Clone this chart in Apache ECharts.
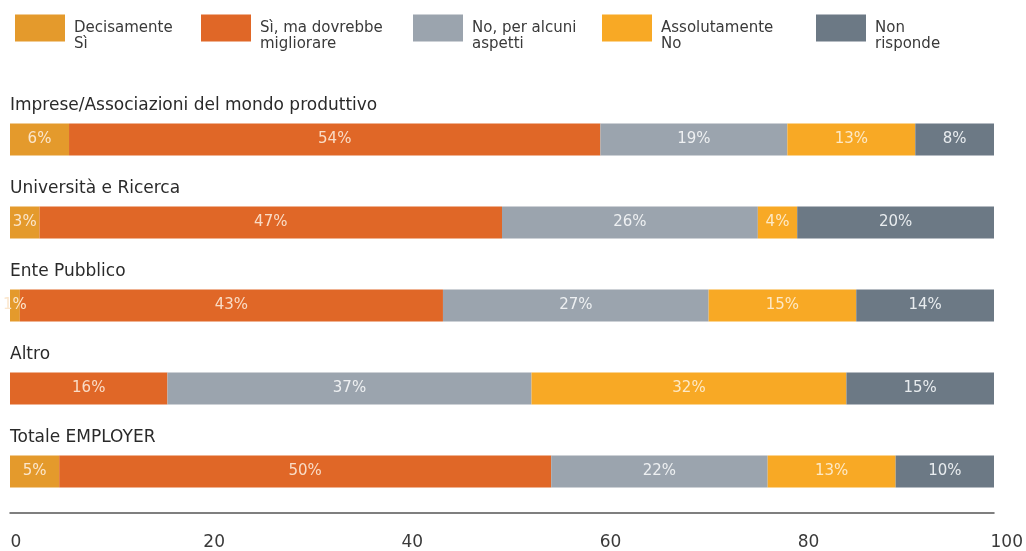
<!DOCTYPE html>
<html>
<head>
<meta charset="utf-8">
<script src="https://cdn.jsdelivr.net/npm/echarts@6/dist/echarts.min.js"></script>
<style>
html,body{margin:0;padding:0;background:#fff;}
#c{width:1026px;height:551px;}
</style>
</head>
<body>
<div id="c"></div>
<script>
const categories = ['Imprese/Associazioni del mondo produttivo', 'Università e Ricerca', 'Ente Pubblico', 'Altro', 'Totale EMPLOYER'];
const seriesNames = ['Decisamente\nSì', 'Sì, ma dovrebbe\nmigliorare', 'No, per alcuni\naspetti', 'Assolutamente\nNo', 'Non\nrisponde'];
const decisamenteSi = [6, 3, 1, 0, 5];
const siMaMigliorare = [54, 47, 43, 16, 50];
const noAlcuniAspetti = [19, 26, 27, 37, 22];
const assolutamenteNo = [13, 4, 15, 32, 13];
const nonRisponde = [8, 20, 14, 15, 10];
const xTicks = [0, 20, 40, 60, 80, 100];

const colors = ['#E49A2C', '#E06727', '#9BA4AE', '#F8A925', '#6C7985'];
const labelColors = ['#FBE6CC', '#F9DCC6', '#EEF0F2', '#FDE9C6', '#E8ECEF'];
const values = [decisamenteSi, siMaMigliorare, noAlcuniAspetti, assolutamenteNo, nonRisponde];
const legendLeft = [15, 201, 413, 602, 816];

const chart = echarts.init(document.getElementById('c'));
const font = '"DejaVu Sans", "Open Sans", sans-serif';

const series = seriesNames.map((n, i) => ({
  name: n,
  type: 'bar',
  stack: 'total',
  xAxisIndex: 0,
  yAxisIndex: 0,
  barWidth: 32,
  itemStyle: { color: colors[i] },
  label: {
    show: true,
    position: 'inside',
    color: labelColors[i],
    fontFamily: font,
    fontSize: 15,
    formatter: p => p.value > 0 ? p.value + '%' : ''
  },
  emphasis: { disabled: true },
  data: values[i]
}));

chart.setOption({
  animation: false,
  backgroundColor: '#fff',
  textStyle: { fontFamily: font },
  legend: seriesNames.map((n, i) => ({
    data: [n],
    left: legendLeft[i],
    top: 4,
    padding: 0,
    itemWidth: 50,
    itemHeight: 27,
    itemGap: 0,
    icon: 'rect',
    selectedMode: false,
    formatter: name => '\n' + name,
    textStyle: { fontSize: 15, color: '#3a3a3a', lineHeight: 16, fontFamily: font, padding: [0, 0, 0, 4] }
  })),
  grid: [
    { left: 10, right: 32, top: 98, bottom: 38 },
    { left: 16, right: 15, top: 98, bottom: 38 }
  ],
  xAxis: [
    {
      gridIndex: 0, type: 'value', min: 0, max: 100, interval: 20,
      axisLine: { show: true, lineStyle: { color: '#555', width: 1.5 } },
      axisTick: { show: false }, axisLabel: { show: false }, splitLine: { show: false }
    },
    {
      gridIndex: 1, type: 'value', min: 0, max: 100, interval: 20,
      axisLine: { show: false }, axisTick: { show: false }, splitLine: { show: false },
      axisLabel: { show: true, margin: 21, fontSize: 17, color: '#3a3a3a', fontFamily: font,
        customValues: xTicks }
    }
  ],
  yAxis: [
    {
      gridIndex: 0, type: 'category', data: categories, inverse: true,
      axisLine: { show: false }, axisTick: { show: false },
      axisLabel: {
        inside: true, margin: 0, align: 'left', verticalAlign: 'bottom',
        padding: [0, 0, 25, 0], fontSize: 17, color: '#2a2a2a', fontFamily: font
      }
    },
    {
      gridIndex: 1, type: 'category', data: categories, inverse: true, show: false
    }
  ],
  series: series
});
</script>
</body>
</html>
